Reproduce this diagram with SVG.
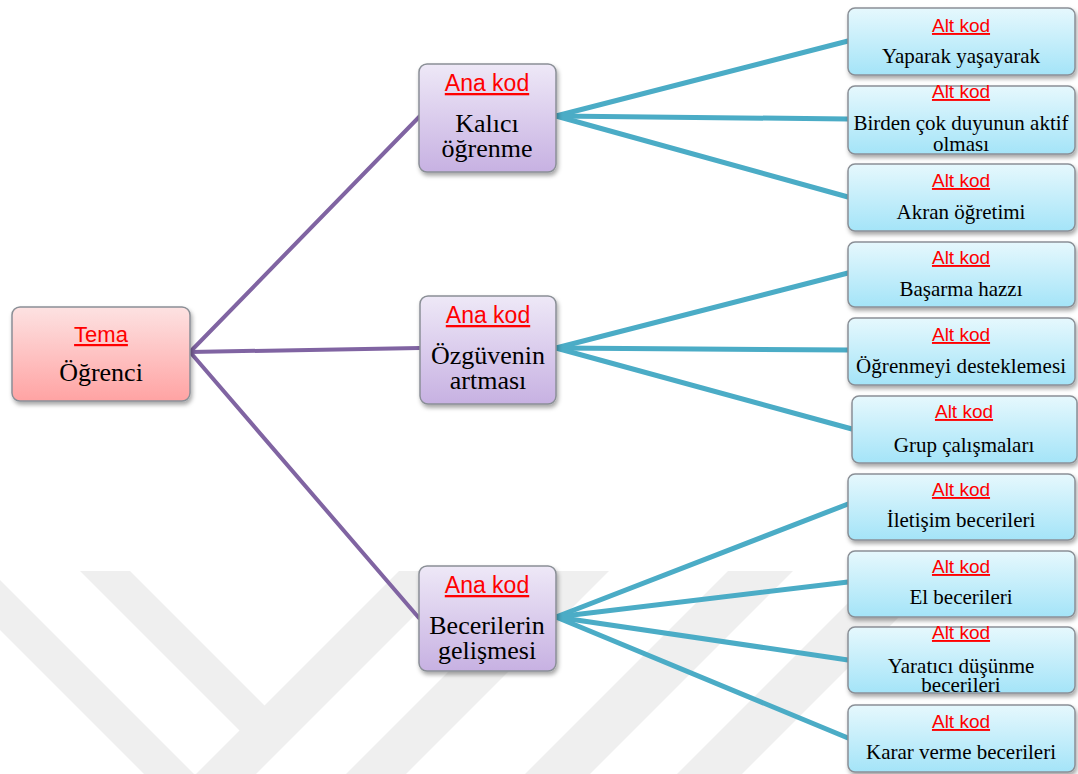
<svg xmlns="http://www.w3.org/2000/svg" width="1078" height="774" viewBox="0 0 1078 774">
  <style>
    .box { stroke: #8a8f96; stroke-width: 1.5; filter: url(#shadow); }
    .tema { fill: url(#gTema); }
    .ana { fill: url(#gAna); }
    .alt { fill: url(#gAlt); }
    .hdr { font-family: "Liberation Sans", Arial, sans-serif; fill: #ff0000; text-decoration: underline; text-anchor: middle; }
    .hdr-big { font-size: 23px; }
    .hdr-small { font-size: 19px; }
    .lbl { font-family: "Liberation Serif", "Times New Roman", serif; fill: #000; text-anchor: middle; }
    .lbl-big { font-size: 26px; }
    .lbl-small { font-size: 21px; }
    .trunk { stroke: #8064a2; stroke-width: 4; stroke-linecap: round; fill: none; }
    .branch { stroke: #4bacc6; stroke-width: 5; stroke-linecap: round; fill: none; }
    .mark { fill: #efefef; }
  </style>
  <defs>
    <linearGradient id="gTema" x1="0" y1="0" x2="0" y2="1">
      <stop offset="0" stop-color="#fde2e2"/>
      <stop offset="1" stop-color="#ffa3a3"/>
    </linearGradient>
    <linearGradient id="gAna" x1="0" y1="0" x2="0" y2="1">
      <stop offset="0" stop-color="#eee8f7"/>
      <stop offset="1" stop-color="#c7b1e2"/>
    </linearGradient>
    <linearGradient id="gAlt" x1="0" y1="0" x2="0" y2="1">
      <stop offset="0" stop-color="#e6f8fd"/>
      <stop offset="1" stop-color="#a4e4f8"/>
    </linearGradient>
    <filter id="shadow" x="-10%" y="-10%" width="120%" height="130%">
      <feDropShadow dx="1.5" dy="3" stdDeviation="2" flood-color="#000" flood-opacity="0.35"/>
    </filter>
  </defs>

  <rect width="1078" height="774" fill="#ffffff"/>

  <!-- faint background emblem -->
  <g id="emblem">
    <polygon class="mark" points="0,580 195,775 144,774 0,630"/>
    <polygon class="mark" points="80,571 130,571 267,708 242,733"/>
    <polygon class="mark" points="399,571 459,571 256,774 196,774"/>
    <polygon class="mark" points="549,571 609,571 406,774 346,774"/>
    <polygon class="mark" points="728,571 793,571 590,774 525,774"/>
    <polygon class="mark" points="880,571 945,571 742,774 677,774"/>
  </g>

  <!-- connectors -->
  <g id="connectors">
    <line class="trunk" x1="190" y1="352" x2="420" y2="116"/>
    <line class="trunk" x1="190" y1="352" x2="420" y2="348"/>
    <line class="trunk" x1="190" y1="352" x2="419" y2="618"/>

    <line class="branch" x1="556" y1="116" x2="848" y2="41"/>
    <line class="branch" x1="556" y1="116" x2="848" y2="119"/>
    <line class="branch" x1="556" y1="116" x2="848" y2="197"/>

    <line class="branch" x1="556" y1="348" x2="848" y2="273"/>
    <line class="branch" x1="556" y1="348" x2="848" y2="350"/>
    <line class="branch" x1="556" y1="348" x2="852" y2="429"/>

    <line class="branch" x1="556" y1="617" x2="848" y2="504"/>
    <line class="branch" x1="556" y1="617" x2="848" y2="582"/>
    <line class="branch" x1="556" y1="617" x2="848" y2="660"/>
    <line class="branch" x1="556" y1="617" x2="848" y2="738"/>
  </g>

  <!-- theme -->
  <g id="tema">
    <rect class="box tema" x="12" y="307" width="178" height="94" rx="8"/>
    <text class="hdr" x="101" y="342" font-size="22">Tema</text>
    <text class="lbl lbl-big" x="101" y="381">Öğrenci</text>
  </g>

  <!-- main codes -->
  <g id="ana-kalici">
    <rect class="box ana" x="419" y="64" width="137" height="108" rx="8"/>
    <text class="hdr hdr-big" x="487" y="91">Ana kod</text>
    <text class="lbl lbl-big" x="487" y="132">Kalıcı</text>
    <text class="lbl lbl-big" x="487" y="157">öğrenme</text>
  </g>
  <g id="ana-ozguven">
    <rect class="box ana" x="420" y="296" width="136" height="108" rx="8"/>
    <text class="hdr hdr-big" x="488" y="323">Ana kod</text>
    <text class="lbl lbl-big" x="488" y="364">Özgüvenin</text>
    <text class="lbl lbl-big" x="488" y="389">artması</text>
  </g>
  <g id="ana-beceri">
    <rect class="box ana" x="419" y="566" width="137" height="105" rx="8"/>
    <text class="hdr hdr-big" x="487" y="593">Ana kod</text>
    <text class="lbl lbl-big" x="487" y="634">Becerilerin</text>
    <text class="lbl lbl-big" x="487" y="659">gelişmesi</text>
  </g>

  <!-- sub codes -->
  <g id="alt-yaparak">
    <rect class="box alt" x="848" y="8" width="227" height="67" rx="7"/>
    <text class="hdr hdr-small" x="961" y="32">Alt kod</text>
    <text class="lbl lbl-small" x="961" y="63">Yaparak yaşayarak</text>
  </g>
  <g id="alt-duyu">
    <rect class="box alt" x="848" y="86" width="227" height="68" rx="7"/>
    <text class="hdr hdr-small" x="961" y="98">Alt kod</text>
    <text class="lbl lbl-small" x="961" y="130">Birden çok duyunun aktif</text>
    <text class="lbl lbl-small" x="961" y="151">olması</text>
  </g>
  <g id="alt-akran">
    <rect class="box alt" x="848" y="164" width="227" height="67" rx="7"/>
    <text class="hdr hdr-small" x="961" y="187">Alt kod</text>
    <text class="lbl lbl-small" x="961" y="219">Akran öğretimi</text>
  </g>
  <g id="alt-basarma">
    <rect class="box alt" x="848" y="242" width="227" height="65" rx="7"/>
    <text class="hdr hdr-small" x="961" y="264">Alt kod</text>
    <text class="lbl lbl-small" x="961" y="296">Başarma hazzı</text>
  </g>
  <g id="alt-destek">
    <rect class="box alt" x="848" y="318" width="227" height="67" rx="7"/>
    <text class="hdr hdr-small" x="961" y="341">Alt kod</text>
    <text class="lbl lbl-small" x="961" y="373" textLength="210">Öğrenmeyi desteklemesi</text>
  </g>
  <g id="alt-grup">
    <rect class="box alt" x="852" y="396" width="225" height="67" rx="7"/>
    <text class="hdr hdr-small" x="964" y="418">Alt kod</text>
    <text class="lbl lbl-small" x="964" y="452">Grup çalışmaları</text>
  </g>
  <g id="alt-iletisim">
    <rect class="box alt" x="848" y="474" width="227" height="66" rx="7"/>
    <text class="hdr hdr-small" x="961" y="496">Alt kod</text>
    <text class="lbl lbl-small" x="961" y="527">İletişim becerileri</text>
  </g>
  <g id="alt-el">
    <rect class="box alt" x="848" y="551" width="227" height="66" rx="7"/>
    <text class="hdr hdr-small" x="961" y="573">Alt kod</text>
    <text class="lbl lbl-small" x="961" y="604">El becerileri</text>
  </g>
  <g id="alt-yaratici">
    <rect class="box alt" x="848" y="627" width="227" height="66" rx="7"/>
    <text class="hdr hdr-small" x="961" y="639">Alt kod</text>
    <text class="lbl lbl-small" x="961" y="673">Yaratıcı düşünme</text>
    <text class="lbl lbl-small" x="961" y="692">becerileri</text>
  </g>
  <g id="alt-karar">
    <rect class="box alt" x="848" y="705" width="227" height="67" rx="7"/>
    <text class="hdr hdr-small" x="961" y="728">Alt kod</text>
    <text class="lbl lbl-small" x="961" y="759">Karar verme becerileri</text>
  </g>
</svg>
